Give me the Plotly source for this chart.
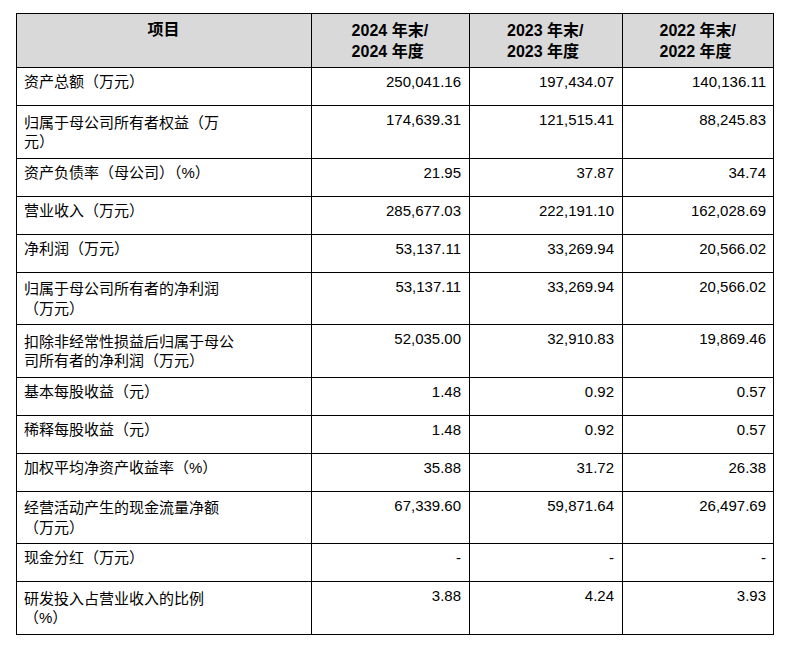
import plotly.graph_objects as go

headers = ["<b>项目</b>", "<b>2024 年末/<br>2024 年度</b>", "<b>2023 年末/<br>2023 年度</b>", "<b>2022 年末/<br>2022 年度</b>"]
items = ["资产总额（万元）", "归属于母公司所有者权益（万<br>元）", "资产负债率（母公司）（%）", "营业收入（万元）",
         "净利润（万元）", "归属于母公司所有者的净利润<br>（万元）", "扣除非经常性损益后归属于母公<br>司所有者的净利润（万元）",
         "基本每股收益（元）", "稀释每股收益（元）", "加权平均净资产收益率（%）",
         "经营活动产生的现金流量净额<br>（万元）", "现金分红（万元）", "研发投入占营业收入的比例<br>（%）"]
y2024 = ["250,041.16", "174,639.31", "21.95", "285,677.03", "53,137.11", "53,137.11", "52,035.00", "1.48", "1.48", "35.88", "67,339.60", "-", "3.88"]
y2023 = ["197,434.07", "121,515.41", "37.87", "222,191.10", "33,269.94", "33,269.94", "32,910.83", "0.92", "0.92", "31.72", "59,871.64", "-", "4.24"]
y2022 = ["140,136.11", "88,245.83", "34.74", "162,028.69", "20,566.02", "20,566.02", "19,869.46", "0.57", "0.57", "26.38", "26,497.69", "-", "3.93"]

font = "Liberation Sans, Noto Sans CJK SC, sans-serif"
fig = go.Figure(go.Table(
    columnwidth=[303, 162, 157, 156],
    header=dict(values=headers, fill_color="#d9d9d9", line=dict(color="black", width=1),
                align="center", font=dict(family=font, size=16, color="black"), height=50),
    cells=dict(values=[items, y2024, y2023, y2022], fill_color="white", line=dict(color="black", width=1),
               align=["left", "right", "right", "right"], font=dict(family=font, size=15, color="black"), height=38),
))
fig.update_layout(width=790, height=651, margin=dict(l=8, r=4, t=5, b=0), paper_bgcolor="white")
fig.update_traces(domain=dict(x=[0, 0.975], y=[0, 1]))
fig.write_html("out.html")
